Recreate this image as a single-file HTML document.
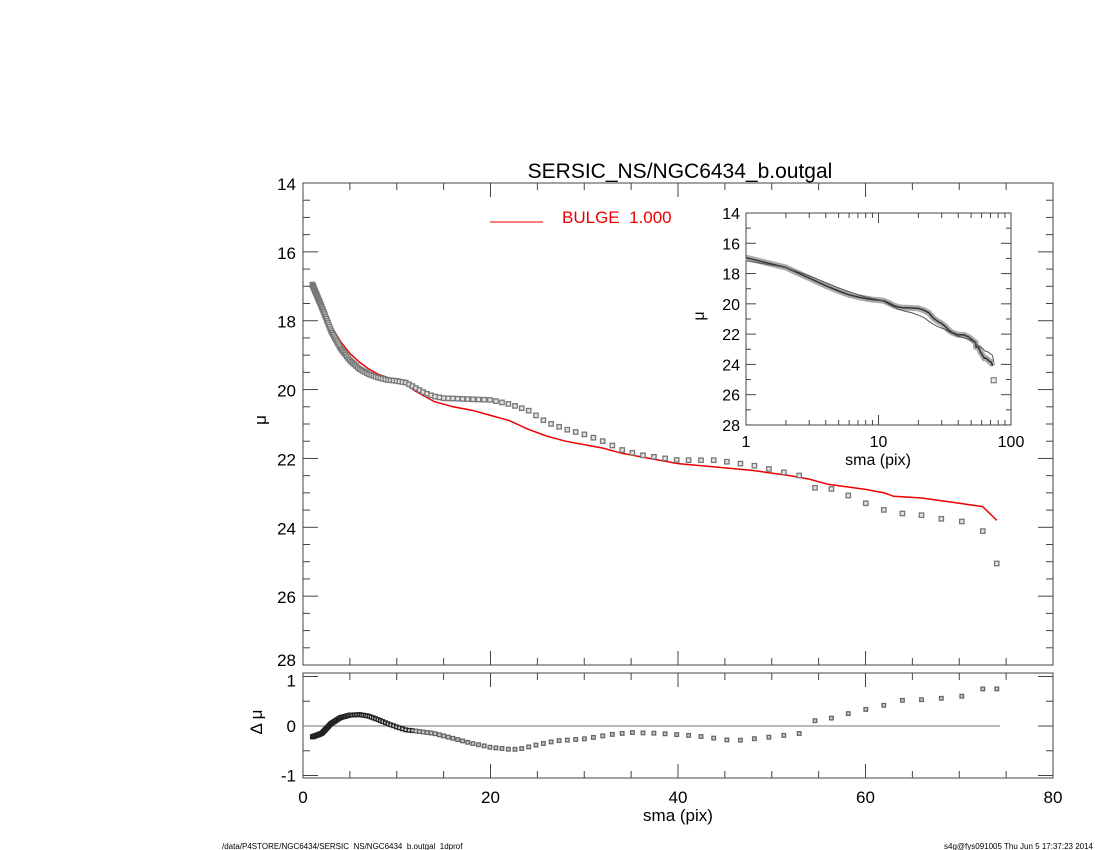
<!DOCTYPE html>
<html><head><meta charset="utf-8"><style>body{margin:0;background:#fff}svg{display:block}</style></head>
<body>
<svg id="s" width="1100" height="850" xmlns="http://www.w3.org/2000/svg" font-family="Liberation Sans, sans-serif"></svg>
<script>
const S=document.getElementById('s');let h='';
function X(r){return 303+r*9.375}
function Y(m){return 183+(m-14)*34.43}
function R(d){return 726-d*49.5}
function interp(k,r){for(let i=0;i<k.length-1;i++){if(r<=k[i+1][0]){const t=(r-k[i][0])/(k[i+1][0]-k[i][0]);return k[i][1]+t*(k[i+1][1]-k[i][1]);}}return k[k.length-1][1];}
const D=[[1,16.95],[2,17.6],[3,18.3],[4,18.8],[5,19.15],[6,19.4],[7,19.55],[8,19.65],[9,19.72],[10,19.75],[11,19.8],[12,19.95],[13,20.1],[14,20.2],[15,20.25],[17,20.27],[20,20.3],[22,20.42],[24,20.6],[26,20.95],[28,21.15],[30,21.3],[32,21.5],[34,21.75],[36,21.9],[40,22.05],[44,22.05],[48,22.2],[52,22.45],[54,22.55],[54.5,22.85],[57,22.9],[59,23.2],[61,23.4],[63,23.6],[65,23.6],[67,23.7],[69,23.8],[71,23.85],[72.5,24.1],[74,25.05]];
const M=[[1,17.15],[2,17.6],[3,18.15],[4,18.6],[5,18.95],[6,19.2],[7,19.4],[8,19.55],[9,19.65],[10,19.72],[11,19.85],[12,20.05],[14,20.35],[16,20.5],[18,20.6],[20,20.75],[22,20.9],[24,21.15],[26,21.35],[28,21.5],[32,21.7],[34,21.85],[36,21.95],[40,22.15],[44,22.25],[48,22.35],[52,22.5],[54,22.6],[56,22.75],[60,22.9],[62,23.0],[63,23.1],[66,23.15],[70,23.3],[72.5,23.4],[74,23.8]];
const RD=[[1,-0.22],[2,-0.15],[3,0.05],[4,0.17],[5,0.22],[6,0.23],[7,0.2],[8,0.13],[9,0.05],[10,-0.02],[11,-0.08],[12,-0.1],[14,-0.15],[16,-0.25],[18,-0.35],[20,-0.43],[22,-0.47],[23,-0.47],[25,-0.38],[27,-0.3],[30,-0.26],[33,-0.17],[35,-0.13],[38,-0.15],[42,-0.2],[46,-0.3],[50,-0.22],[53,-0.15],[54,-0.1],[54.4,0.1],[57,0.18],[59,0.3],[61,0.37],[62,0.42],[63,0.52],[65,0.52],[69,0.57],[71,0.62],[72.5,0.75]];
let rs=[];for(let r=1;r<=74.01;r*=1.032)rs.push(r);rs.push(74);
function frame(x1,y1,x2,y2){h+=`<rect x="${x1}" y="${y1}" width="${x2-x1}" height="${y2-y1}" fill="none" stroke="#444" stroke-width="1"/>`}
frame(303,183,1053,665);frame(303,673,1053,778);
for(let v=0;v<=80;v+=5){const x=X(v),L=v%20==0?14:7;
 h+=`<line x1="${x}" y1="665" x2="${x}" y2="${665-L}" stroke="#444"/><line x1="${x}" y1="183" x2="${x}" y2="${183+L}" stroke="#444"/>`;
 h+=`<line x1="${x}" y1="778" x2="${x}" y2="${778-L}" stroke="#444"/><line x1="${x}" y1="673" x2="${x}" y2="${673+L}" stroke="#444"/>`;
 if(v%20==0)h+=`<text x="${x}" y="803" font-size="17" text-anchor="middle">${v}</text>`;}
h+=`<text x="678" y="821" font-size="17" text-anchor="middle">sma (pix)</text>`;
for(let v=14;v<=28;v+=0.5){const y=Y(v),L=v%2==0?15:7;
 h+=`<line x1="303" y1="${y}" x2="${303+L}" y2="${y}" stroke="#444"/><line x1="1053" y1="${y}" x2="${1053-L}" y2="${y}" stroke="#444"/>`;
 if(v%2==0)h+=`<text x="296" y="${v==28?y+1:y+7}" font-size="17" text-anchor="end">${v}</text>`;}
h+=`<text x="270" y="424" font-size="17" text-anchor="middle" transform="rotate(-90 266 424)">μ</text>`;
for(let v=-1;v<=1;v+=0.5){const y=R(v),L=Number.isInteger(v)?15:7;
 h+=`<line x1="303" y1="${y}" x2="${303+L}" y2="${y}" stroke="#444"/><line x1="1053" y1="${y}" x2="${1053-L}" y2="${y}" stroke="#444"/>`;
 if(Number.isInteger(v))h+=`<text x="296" y="${v==1?y+10:y+6}" font-size="17" text-anchor="end">${v}</text>`;}
h+=`<text x="266" y="726" font-size="17" text-anchor="middle" transform="rotate(-90 262 726)">Δ μ</text>`;
h+=`<line x1="303" y1="726" x2="1000" y2="726" stroke="#777" stroke-width="1"/>`;
h+=`<text x="680" y="178" font-size="21" text-anchor="middle">SERSIC_NS/NGC6434_b.outgal</text>`;
h+=`<line x1="490" y1="222" x2="543" y2="222" stroke="#e00" stroke-width="1"/><text x="562" y="223" font-size="17" fill="#e00">BULGE&#160;&#160;1.000</text>`;
h+=`<polyline fill="none" stroke="#e00" stroke-width="1.5" points="${M.map(p=>X(p[0]).toFixed(1)+','+Y(p[1]).toFixed(1)).join(' ')}"/>`;
for(const r of rs){const x=X(r),y=Y(interp(D,r));h+=`<rect x="${(x-2.2).toFixed(1)}" y="${(y-2.2).toFixed(1)}" width="4.4" height="4.4" fill="#e4e4e4" stroke="#777" stroke-width="1.3"/>`;
 const y2=R(interp(RD,r));h+=`<rect x="${(x-1.8).toFixed(1)}" y="${(y2-1.8).toFixed(1)}" width="3.6" height="3.6" fill="#ccc" stroke="${r<12?'#222':'#666'}" stroke-width="1.3"/>`;}
const iX=r=>746+Math.log10(r)*132.5, iY=m=>213+(m-14)*15.14;
frame(746,213,1011,425);
for(let d=0;d<2;d++)for(let k=1;k<=10;k++){const v=Math.pow(10,d)*k;if(v>100)continue;const x=iX(v),L=(k==1||k==10)?10:5;
 h+=`<line x1="${x}" y1="425" x2="${x}" y2="${425-L}" stroke="#444"/><line x1="${x}" y1="213" x2="${x}" y2="${213+L}" stroke="#444"/>`;}
[[1,'1'],[10,'10'],[100,'100']].forEach(p=>h+=`<text x="${iX(p[0])}" y="447" font-size="16" text-anchor="middle">${p[1]}</text>`);
h+=`<text x="878" y="465" font-size="16" text-anchor="middle">sma (pix)</text>`;
for(let v=14;v<=28;v+=1){const y=iY(v),L=v%2==0?10:5;
 h+=`<line x1="746" y1="${y}" x2="${746+L}" y2="${y}" stroke="#444"/><line x1="1011" y1="${y}" x2="${1011-L}" y2="${y}" stroke="#444"/>`;
 if(v%2==0)h+=`<text x="740" y="${y+6}" font-size="16" text-anchor="end">${v}</text>`;}
h+=`<text x="708" y="320" font-size="16" text-anchor="middle" transform="rotate(-90 704 320)">μ</text>`;
const ip=D.slice(0,-1).map(p=>iX(p[0]).toFixed(1)+','+iY(p[1]).toFixed(1)).join(' ');
h+=`<polyline fill="none" stroke="#aaa" stroke-width="6" points="${ip}"/><polyline fill="none" stroke="#333" stroke-width="1.5" points="${ip}"/>`;
h+=`<polyline fill="none" stroke="#555" stroke-width="1" points="${M.map(p=>iX(p[0]).toFixed(1)+','+iY(p[1]).toFixed(1)).join(' ')}"/>`;
h+=`<rect x="${iX(74)-2.5}" y="${iY(25.05)-2.5}" width="5" height="5" fill="#eee" stroke="#666"/>`;
h+=`<text x="222" y="849" font-size="8">/data/P4STORE/NGC6434/SERSIC_NS/NGC6434_b.outgal_1dprof</text>`;
h+=`<text x="1093" y="849" font-size="8" text-anchor="end">s4g@fys091005  Thu Jun  5 17:37:23 2014</text>`;
S.innerHTML=h;
</script>
</body></html>
